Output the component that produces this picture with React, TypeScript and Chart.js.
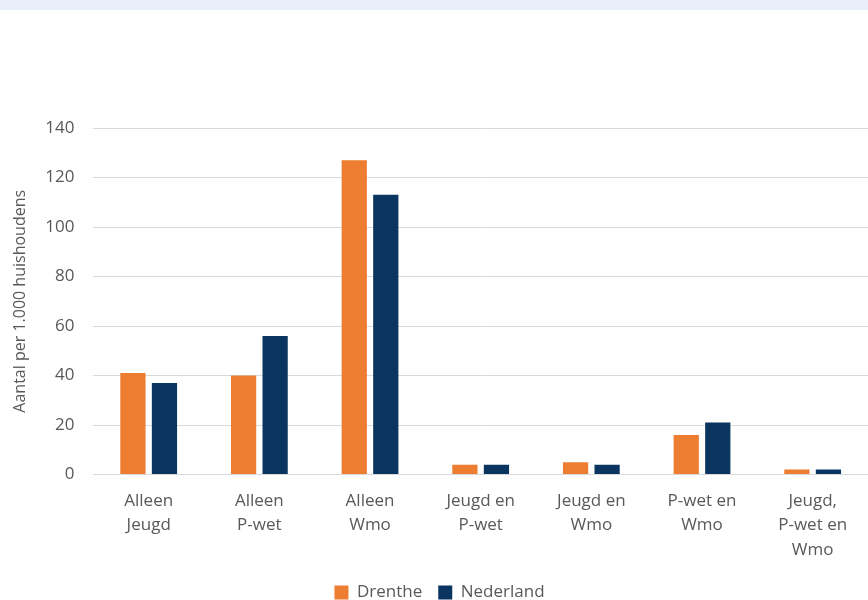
import React, { useEffect, useRef } from "react";
import { Chart, registerables } from "chart.js";

Chart.register(...registerables);

const categories: string[][] = [
  ["Alleen", "Jeugd"],
  ["Alleen", "P-wet"],
  ["Alleen", "Wmo"],
  ["Jeugd en", "P-wet"],
  ["Jeugd en", "Wmo"],
  ["P-wet en", "Wmo"],
  ["Jeugd,", "P-wet en", "Wmo"],
];
const drenthe = [41, 40, 127, 4, 5, 16, 2];
const nederland = [37, 56, 113, 4, 4, 21, 2];
const yTicks = [0, 20, 40, 60, 80, 100, 120, 140];

export default function App() {
  const ref = useRef<HTMLCanvasElement>(null);
  useEffect(() => {
    document.body.style.margin = "0";
    const font = "'Open Sans', 'Noto Sans', sans-serif";
    const chart = new Chart(ref.current!, {
      type: "bar",
      data: {
        labels: categories,
        datasets: [
          { label: "Drenthe", data: drenthe, backgroundColor: "#ED7D31", categoryPercentage: 0.57, barPercentage: 0.8 },
          { label: "Nederland", data: nederland, backgroundColor: "#0A3560", categoryPercentage: 0.57, barPercentage: 0.8 },
        ],
      },
      options: {
        animation: false,
        responsive: false,
        maintainAspectRatio: false,
        layout: { padding: { top: 118, right: 0, left: 11, bottom: 0 } },
        plugins: {
          legend: {
            position: "bottom",
            labels: { color: "#595959", font: { family: font, size: 17 }, boxWidth: 14, boxHeight: 14, padding: 16 },
          },
          tooltip: { enabled: false },
        },
        scales: {
          x: {
            grid: { display: false },
            border: { color: "#d9d9d9", width: 1 },
            ticks: { color: "#595959", font: { family: font, size: 17, lineHeight: 1.44 }, maxRotation: 0, autoSkip: false, padding: 6 },
          },
          y: {
            min: 0,
            max: 140,
            afterBuildTicks: (axis: any) => {
              axis.ticks = yTicks.map((v) => ({ value: v }));
            },
            grid: { color: "#d9d9d9", lineWidth: 1, drawTicks: false },
            border: { display: false },
            ticks: { color: "#595959", font: { family: font, size: 17 }, padding: 19 },
            title: { display: true, text: "Aantal per 1.000 huishoudens", color: "#595959", font: { family: font, size: 16 }, padding: { top: 0, bottom: -4 } },
          },
        },
      },
    });
    return () => chart.destroy();
  }, []);
  return (
    <div style={{ width: 868, height: 600, background: "#fff", overflow: "hidden" }}>
      <div style={{ height: 10, background: "#E8EFF9" }} />
      <canvas ref={ref} width={868} height={601} style={{ display: "block" }} />
    </div>
  );
}
